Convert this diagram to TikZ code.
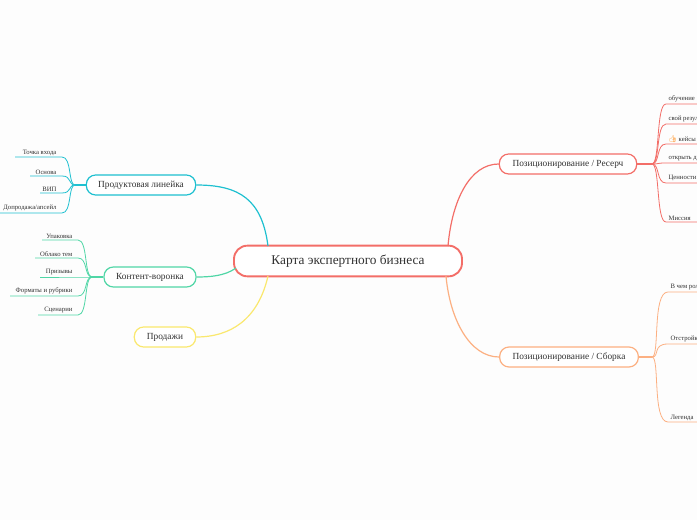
\documentclass[tikz,border=0pt]{standalone}
\usepackage{fontspec}
\setmainfont{Liberation Serif}
\newfontfamily\emojifont{Noto Emoji}
\usetikzlibrary{positioning}
\definecolor{background}{RGB}{253,253,253}
\definecolor{redline}{RGB}{243,110,104}
\definecolor{cyanline}{RGB}{30,192,208}
\definecolor{greenline}{RGB}{80,214,166}
\definecolor{yellowline}{RGB}{250,232,110}
\definecolor{orangeline}{RGB}{252,176,130}
\definecolor{textgrey}{RGB}{50,50,50}
\tikzset{
  topic/.style={rectangle, rounded corners=7pt, draw=#1, line width=0.9pt, fill=white, minimum height=15pt, font=\fontsize{7}{8}\selectfont, text=textgrey, inner xsep=6pt},
  leaf/.style={font=\fontsize{5}{6}\selectfont, text=textgrey, inner sep=1pt, anchor=south west},
  link/.style={line width=0.9pt, draw=#1},
}
\begin{document}
\begin{tikzpicture}[x=0.75pt,y=-0.75pt]
\fill[background] (0,0) rectangle (697,520);
\clip (0,0) rectangle (697,520);
\useasboundingbox (0,0) rectangle (697,520);
% central topic
\node (map) [rectangle, rounded corners=10pt, draw=redline, line width=1.4pt, fill=white, minimum width=171pt, minimum height=23pt, text=textgrey, font=\fontsize{10}{12}\selectfont] at (348,261) {Карта экспертного бизнеса};
% main topics
\node (prod) [topic=cyanline, minimum width=82pt] at (141,185) {Продуктовая линейка};
\node (cont) [topic=greenline, minimum width=69pt] at (150,277) {Контент-воронка};
\node (sale) [topic=yellowline, minimum width=46pt] at (165,337) {Продажи};
\node (res) [topic=redline, minimum width=103pt] at (568,164) {Позиционирование / Ресерч};
\node (asm) [topic=orangeline, minimum width=104pt] at (569,357) {Позиционирование / Сборка};
% main links
\draw[link=cyanline] (268,246) .. controls (262,200) and (240,185) .. (prod.east);
\draw[link=greenline] (236,268) .. controls (225,276) and (210,277) .. (cont.east);
\draw[link=yellowline] (268,276) .. controls (258,320) and (230,337) .. (sale.east);
\draw[link=redline] (448,246) .. controls (452,200) and (470,164) .. (res.west);
\draw[link=orangeline] (446,276) .. controls (450,320) and (470,357) .. (asm.west);
% hubs
\coordinate (hp) at (75,185);
\coordinate (hc) at (92,277);
\coordinate (hr) at (652,164);
\coordinate (ha) at (652,357);
\draw[link=cyanline] (prod.west) -- (hp);
\draw[link=greenline] (cont.west) -- (hc);
\draw[link=redline] (res.east) -- (hr);
\draw[link=orangeline] (asm.east) -- (ha);
% left leaves
\foreach \y/\x/\t in {157/15/{Точка входа}, 176/30/{Основа}, 193/40/{ВИП}, 213/0/{Допродажа/апсейл}}{
  \draw[link=cyanline, line width=0.6pt] (hp) .. controls (68,185) and (72,\y) .. (62,\y) -- (\x,\y);
  \node[leaf, anchor=south east] at (58,\y) {\t};
}
\foreach \y/\x/\t in {240/42/Упаковка, 258/35/Облако тем, 277/40/Призывы, 296/10/Форматы и рубрики, 315/38/Сценарии}{
  \draw[link=greenline, line width=0.6pt] (hc) .. controls (84,277) and (88,\y) .. (78,\y) -- (\x,\y);
  \node[leaf, anchor=south east] at (74,\y) {\t};
}
% right leaves
\foreach \y/\t in {104/обучение, 124/свой результат, 163/открыть доступ, 183/Ценности, 222/Миссия}{
  \draw[link=redline, line width=0.6pt] (hr) .. controls (660,164) and (656,\y) .. (666,\y) -- (697,\y);
  \node[leaf] at (667,\y) {\t};
}
\draw[link=redline, line width=0.6pt] (hr) .. controls (660,164) and (656,144) .. (666,144) -- (697,144);
\node[leaf] at (667,144) {{\emojifont\textcolor{orange}{👍}} кейсы};
\foreach \y/\t in {292/В чем роль, 344/Отстройка, 422/Легенда}{
  \draw[link=orangeline, line width=0.6pt] (ha) .. controls (660,357) and (652,\y) .. (668,\y) -- (697,\y);
  \node[leaf] at (669,\y) {\t};
}
\end{tikzpicture}
\end{document}
